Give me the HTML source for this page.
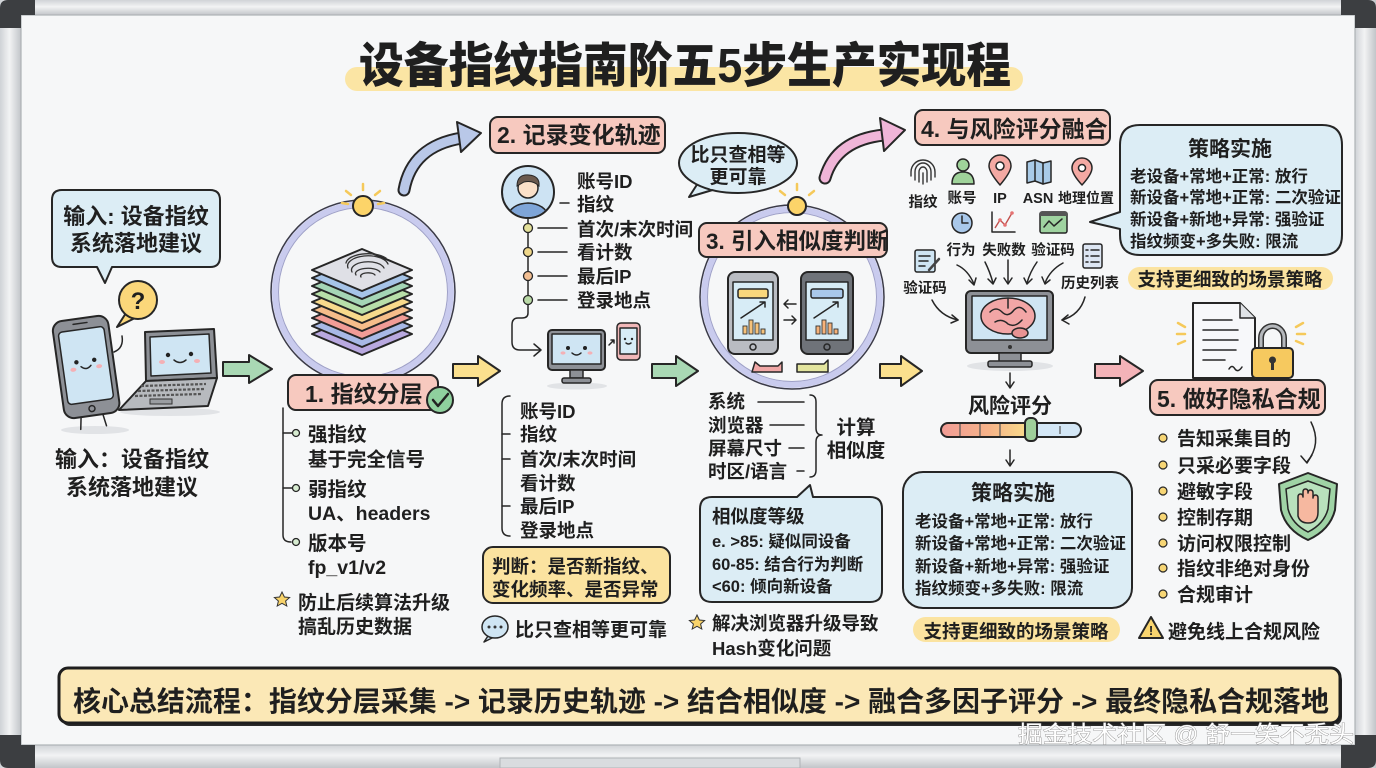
<!DOCTYPE html>
<html><head><meta charset="utf-8">
<style>
html,body{margin:0;padding:0;background:#f6f7f8;}
svg{display:block;}
text{font-family:"Liberation Sans","Noto Sans CJK SC",sans-serif;fill:#1f1f1f;}
.b{font-weight:700;}
.k{stroke:#262626;stroke-width:2;stroke-linejoin:round;stroke-linecap:round;}
.t{stroke:#262626;stroke-width:1.5;stroke-linejoin:round;stroke-linecap:round;}
.t:not([fill]){fill:none;}
</style></head><body>
<svg width="1376" height="768" viewBox="0 0 1376 768" xmlns="http://www.w3.org/2000/svg">
<defs>
<linearGradient id="vbar" x1="0" x2="1" y1="0" y2="0"><stop offset="0" stop-color="#cfd2d6"/><stop offset=".45" stop-color="#f2f3f4"/><stop offset="1" stop-color="#c2c5c9"/></linearGradient>
<linearGradient id="hbar" x1="0" x2="0" y1="0" y2="1"><stop offset="0" stop-color="#d0d3d7"/><stop offset=".45" stop-color="#f2f3f4"/><stop offset="1" stop-color="#c2c5c9"/></linearGradient>
<linearGradient id="slid" x1="0" x2="1" y1="0" y2="0"><stop offset="0" stop-color="#f19c96"/><stop offset=".35" stop-color="#f6b489"/><stop offset=".6" stop-color="#f8d98b"/><stop offset=".63" stop-color="#d4e7f6"/><stop offset="1" stop-color="#d4e7f6"/></linearGradient>
<clipPath id="av"><circle cx="528" cy="192" r="25"/></clipPath>
</defs>

<!-- whiteboard frame -->
<rect x="0" y="0" width="1376" height="768" fill="#c9ccd0"/>
<rect x="0" y="0" width="1376" height="15" fill="url(#hbar)"/>
<rect x="0" y="745" width="1376" height="23" fill="url(#hbar)"/>
<rect x="0" y="0" width="21" height="768" fill="url(#vbar)"/>
<rect x="1355" y="0" width="21" height="768" fill="url(#vbar)"/>
<rect x="21" y="15" width="1334" height="730" fill="#f6f7f8" stroke="#aeb2b6" stroke-width="1.2"/>
<rect x="500" y="758" width="300" height="10" fill="#d9dcdf" stroke="#b0b3b7" stroke-width="1"/>
<path d="M0,28 V8 Q0,0 8,0 H35 V15 H21 V28 Z" fill="#3c3e41"/>
<path d="M1376,28 V8 Q1376,0 1368,0 H1341 V15 H1355 V28 Z" fill="#3c3e41"/>
<path d="M0,735 H21 V745 H35 V768 H8 Q0,768 0,760 Z" fill="#3c3e41"/>
<path d="M1376,735 H1355 V745 H1341 V768 H1368 Q1376,768 1376,760 Z" fill="#3c3e41"/>

<!-- title -->
<rect x="345" y="67" width="678" height="24" rx="12" fill="#fbe5a4"/>
<text x="359" y="82" class="b" font-size="48" textLength="652" lengthAdjust="spacingAndGlyphs" style="font-weight:900">设备指纹指南阶五5步生产实现程</text>

<!-- ============ INPUT ============ -->
<path d="M62,190 H210 Q220,190 220,200 V257 Q220,267 210,267 H112 L105,283 L97,267 H62 Q52,267 52,257 V200 Q52,190 62,190 Z" fill="#dcedf5" class="k"/>
<text x="136" y="224" class="b" font-size="22" text-anchor="middle">输入: 设备指纹</text>
<text x="136" y="251" class="b" font-size="22" text-anchor="middle">系统落地建议</text>

<polygon points="126,313 117,327 135,318" fill="#fbd77a" class="k"/>
<circle cx="138" cy="300" r="19" fill="#fbd77a" class="k"/>
<text x="138" y="309" class="b" font-size="24" text-anchor="middle">?</text>

<ellipse cx="95" cy="430" rx="34" ry="4" fill="#e1e3e6"/>
<ellipse cx="170" cy="412" rx="50" ry="4" fill="#e1e3e6"/>
<g transform="rotate(-8 86 366)">
<rect x="58" y="318" width="56" height="98" rx="10" fill="#8d9096" class="k" stroke-width="2.5"/>
<rect x="63" y="329" width="46" height="73" rx="4" fill="#cfe5f3" class="t" stroke-width="1.2"/>
<line x1="79" y1="323" x2="93" y2="323" class="t"/>
<circle cx="86" cy="409" r="3" fill="none" class="t"/>
<circle cx="77" cy="361" r="2.2" fill="#222"/><circle cx="95" cy="361" r="2.2" fill="#222"/>
<path d="M81,366 Q86,371 91,366" class="t"/>
<ellipse cx="73" cy="368" rx="3" ry="2" fill="#f4b0b5"/><ellipse cx="99" cy="368" rx="3" ry="2" fill="#f4b0b5"/>
<line x1="74" y1="416" x2="72" y2="428" class="t"/><line x1="96" y1="416" x2="98" y2="428" class="t"/>
</g>
<path d="M114,352 Q124,348 122,336" class="t"/>
<polygon points="145,332 214,329 217,378 146,381" fill="#8d9096" class="k"/>
<polygon points="150,337 209,334 211,373 151,376" fill="#cfe5f3" class="t" stroke-width="1.2"/>
<circle cx="168" cy="355" r="2.2" fill="#222"/><circle cx="191" cy="354" r="2.2" fill="#222"/>
<path d="M174,360 Q180,365 186,360" class="t"/>
<ellipse cx="162" cy="362" rx="3" ry="2" fill="#f4b0b5"/><ellipse cx="197" cy="361" rx="3" ry="2" fill="#f4b0b5"/>
<polygon points="146,381 217,378 208,406 119,410" fill="#b7babe" class="k"/>
<path d="M141,386 L206,384 M138,391 L204,389 M135,396 L201,394" stroke="#555" stroke-width="2.2" stroke-dasharray="3 1.5" fill="none"/>
<rect x="150" y="399" width="22" height="5" fill="#9a9da1" stroke="#333" stroke-width="1"/>

<text x="132" y="467" class="b" font-size="22" text-anchor="middle">输入：设备指纹</text>
<text x="132" y="495" class="b" font-size="22" text-anchor="middle">系统落地建议</text>

<!-- arrows between stages -->
<path d="M223,362 H249 V355 L272,369 L249,383 V376 H223 Z" fill="#a9d8b4" class="k"/>
<path d="M453,364 H478 V356 L500,371 L478,386 V378 H453 Z" fill="#fbe08e" class="k"/>
<path d="M652,364 H676 V356 L698,371 L676,386 V378 H652 Z" fill="#a9d8b4" class="k"/>
<path d="M880,364 H901 V356 L922,371 L901,386 V378 H880 Z" fill="#fbe08e" class="k"/>
<path d="M1095,364 H1120 V356 L1143,371 L1120,386 V378 H1095 Z" fill="#f4b3b8" class="k"/>

<!-- curved arrows -->
<path d="M404,190 Q412,146 462,138" fill="none" stroke="#262626" stroke-width="13" stroke-linecap="round"/>
<path d="M404,190 Q412,146 462,138" fill="none" stroke="#b9c8e8" stroke-width="9" stroke-linecap="round"/>
<polygon points="457,122 481,133 461,152" fill="#b9c8e8" class="k"/>
<path d="M825,178 Q836,140 884,135" fill="none" stroke="#262626" stroke-width="13" stroke-linecap="round"/>
<path d="M825,178 Q836,140 884,135" fill="none" stroke="#f0b5d8" stroke-width="9" stroke-linecap="round"/>
<polygon points="880,118 905,130 884,151" fill="#f0b5d8" class="k"/>

<!-- ============ STEP 1 ============ -->
<circle cx="363" cy="292" r="92" fill="none" stroke="#3a3a48" stroke-width="1.5"/>
<circle cx="363" cy="292" r="88" fill="none" stroke="#c9cbee" stroke-width="6"/>
<circle cx="363" cy="292" r="84.5" fill="none" stroke="#9ea0c8" stroke-width="1"/>
<g stroke="#f5c95a" stroke-width="2.5" stroke-linecap="round"><line x1="363" y1="190" x2="363" y2="184"/><line x1="351" y1="195" x2="346" y2="191"/><line x1="375" y1="195" x2="380" y2="191"/><line x1="348" y1="204" x2="342" y2="203"/><line x1="378" y1="204" x2="384" y2="203"/></g>
<circle cx="363" cy="206" r="10" fill="#fcd469" class="k" stroke-width="1.5"/>

<g class="k" stroke-width="1.6">
<polygon points="312,334 362,313 412,334 362,355" fill="#b9a9e0"/>
<polygon points="312,326 362,305 412,326 362,347" fill="#a8b9e6"/>
<polygon points="312,318 362,297 412,318 362,339" fill="#f19c97"/>
<polygon points="312,310 362,289 412,310 362,331" fill="#f6bd8a"/>
<polygon points="312,302 362,281 412,302 362,323" fill="#f8da8c"/>
<polygon points="312,294 362,273 412,294 362,315" fill="#b8dfa9"/>
<polygon points="312,286 362,265 412,286 362,307" fill="#a5d6b6"/>
<polygon points="312,278 362,257 412,278 362,299" fill="#a6c4e8"/>
<polygon points="312,270 362,249 412,270 362,291" fill="#dfe0e6"/>
</g>
<g fill="none" stroke="#333" stroke-width="1.3" stroke-linecap="round">
<path d="M352,272 A16,8 0 0 1 384,268"/><path d="M348,268 A20,10 0 0 1 388,264"/><path d="M346,263 A22,10 0 0 1 386,258"/><path d="M356,275 A12,5 0 0 1 380,272"/><path d="M361,277 A7,3 0 0 1 375,275"/>
</g>

<rect x="288" y="375" width="150" height="35" rx="8" fill="#f7c9bf" class="k"/>
<text x="305" y="402" class="b" font-size="23">1. 指纹分层</text>
<circle cx="440" cy="400" r="13" fill="#8fd19e" class="k"/>
<path d="M433,400 L438,406 L448,394" fill="none" stroke="#222" stroke-width="2.5" stroke-linecap="round" stroke-linejoin="round"/>

<path d="M283,408 V535 Q283,542 291,542" class="t" stroke-width="1.8"/>
<line x1="283" y1="433" x2="292" y2="433" class="t" stroke-width="1.8"/>
<line x1="283" y1="488" x2="292" y2="488" class="t" stroke-width="1.8"/>
<g fill="#d7ecd1" stroke="#262626" stroke-width="1.3"><circle cx="296" cy="433" r="3.5"/><circle cx="296" cy="488" r="3.5"/><circle cx="296" cy="542" r="3.5"/></g>
<g class="b" font-size="19.5">
<text x="308" y="441">强指纹</text>
<text x="308" y="466">基于完全信号</text>
<text x="308" y="496">弱指纹</text>
<text x="308" y="520">UA、headers</text>
<text x="308" y="550">版本号</text>
<text x="308" y="574">fp_v1/v2</text>
</g>
<polygon points="282,592 284.4,597 289.6,597.5 285.6,601 286.8,606 282,603.3 277.2,606 278.4,601 274.4,597.5 279.6,597" fill="#f8d36a" stroke="#333" stroke-width="1"/>
<text x="298" y="609" class="b" font-size="19">防止后续算法升级</text>
<text x="298" y="633" class="b" font-size="19">搞乱历史数据</text>

<!-- ============ STEP 2 ============ -->
<rect x="490" y="117" width="175" height="36" rx="8" fill="#f7c9bf" class="k"/>
<text x="497" y="143" class="b" font-size="23">2. 记录变化轨迹</text>

<circle cx="528" cy="192" r="26" fill="#cde3f3" class="k"/>
<g clip-path="url(#av)">
<path d="M506,222 Q508,204 528,203 Q548,204 550,222 Z" fill="#7ea5d8" class="t" stroke-width="1.5"/>
<circle cx="528" cy="188" r="10" fill="#fbe0c8" class="t" stroke-width="1.5"/>
<path d="M517,186 Q517,174 529,175 Q540,176 539,186 Q533,180 524,182 Z" fill="#6b5a4e" stroke="#262626" stroke-width="1"/>
</g>
<line x1="560" y1="203" x2="569" y2="203" class="t"/>
<path d="M528,218 V313 Q528,318 522,318 H518 Q512,318 512,325 V342 Q512,350 520,350 H540" class="t" stroke-width="1.6"/>
<path d="M534,344 L541,350 L534,356" class="t" stroke-width="1.6"/>
<g class="t"><line x1="538" y1="228" x2="567" y2="228"/><line x1="538" y1="252" x2="567" y2="252"/><line x1="538" y1="276" x2="567" y2="276"/><line x1="538" y1="300" x2="567" y2="300"/></g>
<g stroke="#262626" stroke-width="1.3"><circle cx="528" cy="228" r="4.5" fill="#e3e09a"/><circle cx="528" cy="252" r="4.5" fill="#efd78a"/><circle cx="528" cy="276" r="4.5" fill="#f2be92"/><circle cx="528" cy="300" r="4.5" fill="#b9d9a6"/></g>
<g class="b" font-size="18.5">
<text x="577" y="188">账号ID</text>
<text x="577" y="211">指纹</text>
<text x="577" y="236">首次/末次时间</text>
<text x="577" y="259">看计数</text>
<text x="577" y="283">最后IP</text>
<text x="577" y="307">登录地点</text>
</g>

<ellipse cx="577" cy="386" rx="30" ry="3.5" fill="#e1e3e6"/>
<rect x="548" y="330" width="57" height="40" rx="4" fill="#8d9096" class="k"/>
<rect x="552" y="334" width="49" height="30" fill="#cfe5f3" class="t" stroke-width="1"/>
<circle cx="568" cy="348" r="2" fill="#222"/><circle cx="585" cy="348" r="2" fill="#222"/>
<path d="M572,353 Q576.5,357 581,353" class="t"/>
<ellipse cx="563" cy="353" rx="2.5" ry="1.6" fill="#f4b0b5"/><ellipse cx="590" cy="353" rx="2.5" ry="1.6" fill="#f4b0b5"/>
<rect x="570" y="370" width="13" height="8" fill="#8d9096" class="t" stroke-width="1.4"/>
<rect x="562" y="378" width="29" height="5" rx="2" fill="#8d9096" class="t" stroke-width="1.4"/>
<path d="M609,345 L614,340 M611,340 H614 V343" class="t" stroke-width="1.2"/>
<rect x="617" y="323" width="23" height="37" rx="4" fill="#f0b7b8" class="t" stroke-width="1.6"/>
<rect x="620" y="328" width="17" height="26" fill="#d7ecf6" class="t" stroke-width="1"/>
<circle cx="625" cy="339" r="1.2" fill="#222"/><circle cx="632" cy="339" r="1.2" fill="#222"/>
<path d="M626,343 Q628.5,345 631,343" class="t" stroke-width="1"/>

<path d="M510,396 Q502,396 502,404 V528 Q502,536 510,536" class="t" stroke-width="1.8"/>
<g class="t" stroke-width="1.8"><line x1="502" y1="434" x2="510" y2="434"/><line x1="502" y1="459" x2="510" y2="459"/><line x1="502" y1="506" x2="510" y2="506"/></g>
<g class="b" font-size="18.5">
<text x="520" y="418">账号ID</text>
<text x="520" y="441">指纹</text>
<text x="520" y="466">首次/末次时间</text>
<text x="520" y="490">看计数</text>
<text x="520" y="513">最后IP</text>
<text x="520" y="537">登录地点</text>
</g>
<rect x="483" y="547" width="187" height="56" rx="10" fill="#fbe3a0" class="k"/>
<text x="492" y="573" class="b" font-size="18.5">判断：是否新指纹、</text>
<text x="492" y="596" class="b" font-size="18.5">变化频率、是否异常</text>

<path d="M488,636 L484,642 L494,637" fill="#cfe5f3" class="t" stroke-width="1.4"/>
<ellipse cx="495" cy="627" rx="13" ry="11" fill="#cfe5f3" class="t" stroke-width="1.4"/>
<g fill="#333"><circle cx="489" cy="627" r="1.5"/><circle cx="495" cy="627" r="1.5"/><circle cx="501" cy="627" r="1.5"/></g>
<text x="515" y="636" class="b" font-size="19">比只查相等更可靠</text>

<!-- bubble -->
<polygon points="698,183 689,197 716,189" fill="#dcedf5" class="k"/>
<ellipse cx="738" cy="163" rx="59" ry="30" fill="#dcedf5" class="k"/>
<path d="M700,181 L712,188" stroke="#dcedf5" stroke-width="3"/>
<text x="738" y="161" class="b" font-size="19" text-anchor="middle">比只查相等</text>
<text x="738" y="183" class="b" font-size="19" text-anchor="middle">更可靠</text>

<!-- ============ STEP 3 ============ -->
<circle cx="792" cy="297" r="92" fill="none" stroke="#3a3a48" stroke-width="1.5"/>
<circle cx="792" cy="297" r="88" fill="none" stroke="#c9cbee" stroke-width="6"/>
<circle cx="792" cy="297" r="84.5" fill="none" stroke="#9ea0c8" stroke-width="1"/>
<g stroke="#f5c95a" stroke-width="2.5" stroke-linecap="round"><line x1="797" y1="190" x2="797" y2="184"/><line x1="785" y1="195" x2="780" y2="191"/><line x1="809" y1="195" x2="814" y2="191"/></g>
<circle cx="797" cy="206" r="9" fill="#fcd469" class="k" stroke-width="1.5"/>

<rect x="728" y="272" width="50" height="82" rx="7" fill="#b9bcc2" class="k"/>
<rect x="733" y="282" width="40" height="58" fill="#d7ecf6" class="t" stroke-width="1.2"/>
<rect x="738" y="289" width="30" height="9" rx="2" fill="#f8d77c" class="t" stroke-width="1"/>
<path d="M741,318 L765,302 M760,302 H765 V307" class="t" stroke-width="1.4"/>
<g fill="#f6c27a" stroke="#333" stroke-width="0.9"><rect x="743" y="326" width="4" height="8"/><rect x="749" y="320" width="4" height="14"/><rect x="755" y="323" width="4" height="11"/><rect x="761" y="329" width="4" height="5"/></g>
<circle cx="753" cy="347" r="3" fill="none" class="t" stroke-width="1.2"/>
<rect x="801" y="272" width="52" height="82" rx="7" fill="#6f7379" class="k"/>
<rect x="806" y="282" width="42" height="58" fill="#d7ecf6" class="t" stroke-width="1.2"/>
<rect x="811" y="289" width="32" height="9" rx="2" fill="#a9c8ea" class="t" stroke-width="1"/>
<path d="M814,318 L838,302 M833,302 H838 V307" class="t" stroke-width="1.4"/>
<g fill="#f6b27a" stroke="#333" stroke-width="0.9"><rect x="816" y="326" width="4" height="8"/><rect x="822" y="320" width="4" height="14"/><rect x="828" y="323" width="4" height="11"/><rect x="834" y="329" width="4" height="5"/></g>
<circle cx="827" cy="347" r="3" fill="none" class="t" stroke-width="1.2"/>
<path d="M796,304 H784 M788,300 L784,304 L788,308 M784,320 H796 M792,316 L796,320 L792,324" class="t" stroke-width="1.4"/>
<path d="M752,372 L755,362 L760,366 H778 L782,362 V372 Z" fill="#f0a7a6" class="t" stroke-width="1.2"/>
<path d="M797,372 V364 H824 L828,360 V372 Z" fill="#e3e59e" class="t" stroke-width="1.2"/>

<rect x="699" y="223" width="188" height="34" rx="8" fill="#f7c9bf" class="k"/>
<text x="706" y="249" class="b" font-size="22.5">3. 引入相似度判断</text>

<g class="b" font-size="18.5">
<text x="708" y="408">系统</text>
<text x="708" y="432">浏览器</text>
<text x="708" y="455">屏幕尺寸</text>
<text x="708" y="478">时区/语言</text>
</g>
<g class="t" stroke-width="1.4"><line x1="758" y1="402" x2="804" y2="402"/><line x1="770" y1="425" x2="804" y2="425"/><line x1="789" y1="448" x2="804" y2="448"/><line x1="797" y1="471" x2="804" y2="471"/></g>
<path d="M810,395 Q816,395 816,402 V428 Q816,435 822,435 Q816,435 816,442 V470 Q816,477 810,477" class="t" stroke-width="1.8"/>
<text x="856" y="434" class="b" font-size="19.5" text-anchor="middle">计算</text>
<text x="856" y="457" class="b" font-size="19.5" text-anchor="middle">相似度</text>

<path d="M712,497 H797 L810,485 L813,497 H870 Q882,497 882,509 V590 Q882,602 870,602 H712 Q700,602 700,590 V509 Q700,497 712,497 Z" fill="#dcedf5" class="k"/>
<text x="712" y="523" class="b" font-size="18.5">相似度等级</text>
<g class="b" font-size="16.5">
<text x="712" y="547">e. &gt;85: 疑似同设备</text>
<text x="712" y="570">60-85: 结合行为判断</text>
<text x="712" y="592">&lt;60: 倾向新设备</text>
</g>
<polygon points="697,615 699.4,620 704.6,620.5 700.6,624 701.8,629 697,626.3 692.2,629 693.4,624 689.4,620.5 694.6,620" fill="#f8d36a" stroke="#333" stroke-width="1"/>
<text x="712" y="630" class="b" font-size="18.5">解决浏览器升级导致</text>
<text x="712" y="655" class="b" font-size="18.5">Hash变化问题</text>

<!-- ============ STEP 4 ============ -->
<rect x="915" y="110" width="195" height="35" rx="8" fill="#f7c9bf" class="k"/>
<text x="921" y="137" class="b" font-size="23">4. 与风险评分融合</text>

<!-- icons row 1 -->
<g fill="none" stroke="#333" stroke-width="1.4" stroke-linecap="round">
<path d="M915,180 V172 A8,9 0 0 1 931,172 V180"/><path d="M919,182 V172 A4,5 0 0 1 927,172 V182"/><path d="M923,184 V173"/><path d="M911,176 V172 A12,12 0 0 1 935,172 V177"/>
</g>
<circle cx="963" cy="165" r="6" fill="#9fd39a" class="t" stroke-width="1.5"/>
<path d="M952,184 Q952,172 963,172 Q974,172 974,184 Z" fill="#9fd39a" class="t" stroke-width="1.5"/>
<path d="M1000,185 Q989,172 989,166 A11,11 0 0 1 1011,166 Q1011,172 1000,185 Z" fill="#f4a9a3" class="t" stroke-width="1.5"/>
<circle cx="1000" cy="166" r="4" fill="#fff" class="t" stroke-width="1.2"/>
<path d="M1027,162 L1035,160 L1043,163 L1051,161 V182 L1043,184 L1035,181 L1027,183 Z" fill="#a9cbe8" class="t" stroke-width="1.4"/>
<path d="M1035,160 V181 M1043,163 V184" class="t" stroke-width="1.2"/>
<path d="M1082,185 Q1072,174 1072,168 A10,10 0 0 1 1092,168 Q1092,174 1082,185 Z" fill="#f4a9a3" class="t" stroke-width="1.5"/>
<circle cx="1082" cy="168" r="3.5" fill="#fff" class="t" stroke-width="1.2"/>
<g class="b" font-size="14.5" text-anchor="middle">
<text x="923" y="207">指纹</text>
<text x="962" y="203">账号</text>
<text x="1000" y="203">IP</text>
<text x="1038" y="203">ASN</text>
<text x="1086" y="203" font-size="14">地理位置</text>
</g>
<!-- icons row 2 -->
<circle cx="962" cy="223" r="10" fill="#a9c8ea" class="t" stroke-width="1.5"/>
<path d="M962,216 V223 H968" class="t" stroke-width="1.5"/>
<path d="M992,212 V232 H1015" class="t" stroke-width="1.4"/>
<path d="M995,228 L1000,220 L1005,225 L1012,213" fill="none" stroke="#c0504d" stroke-width="1.4"/>
<g fill="#e57373"><circle cx="1000" cy="220" r="1.8"/><circle cx="1005" cy="225" r="1.8"/><circle cx="1012" cy="213" r="1.8"/></g>
<rect x="1040" y="212" width="27" height="21" rx="2" fill="#9fd3a0" class="t" stroke-width="1.4"/>
<rect x="1040" y="212" width="27" height="4" fill="#555"/>
<path d="M1044,227 L1049,221 L1054,226 L1062,219" class="t" stroke-width="1.2"/>
<rect x="915" y="250" width="20" height="22" rx="2" fill="#cfe5f3" class="t" stroke-width="1.4"/>
<path d="M919,256 H930 M919,261 H928 M919,266 H925" class="t" stroke-width="1.1"/>
<path d="M929,270 L939,259" stroke="#444" stroke-width="2.5" stroke-linecap="round" fill="none"/>
<rect x="1083" y="244" width="19" height="24" rx="2" fill="#dde6f3" class="t" stroke-width="1.4"/>
<path d="M1086,250 H1088 M1091,250 H1099 M1086,256 H1088 M1091,256 H1099 M1086,262 H1088 M1091,262 H1099" class="t" stroke-width="1.1"/>
<g class="b" font-size="14.5" text-anchor="middle">
<text x="961" y="255">行为</text>
<text x="1004" y="255">失败数</text>
<text x="1053" y="255">验证码</text>
<text x="925" y="293">验证码</text>
<text x="1090" y="288">历史列表</text>
</g>
<!-- converging arrows -->
<g class="t" stroke-width="1.5">
<path d="M957,265 Q968,270 974,284"/><path d="M969,280 L974,285 L976,278"/>
<path d="M985,262 Q990,272 993,283"/><path d="M988,279 L993,284 L996,278"/>
<path d="M1008,260 V283"/><path d="M1004,278 L1008,284 L1012,278"/>
<path d="M1037,262 Q1030,272 1027,283"/><path d="M1024,278 L1027,284 L1032,279"/>
<path d="M1063,263 Q1050,270 1045,283"/><path d="M1042,277 L1045,284 L1050,280"/>
<path d="M932,300 Q940,316 958,320"/><path d="M952,315 L958,320 L951,323"/>
<path d="M1085,297 Q1080,315 1062,320"/><path d="M1068,315 L1062,320 L1069,324"/>
</g>
<ellipse cx="1010" cy="366" rx="43" ry="5" fill="#e1e3e6"/>
<rect x="966" y="291" width="87" height="62" rx="5" fill="#8d9096" class="k"/>
<rect x="972" y="296" width="75" height="44" fill="#cfe5f3" class="t" stroke-width="1.2"/>
<circle cx="1010" cy="347" r="2" fill="#333"/>
<rect x="999" y="353" width="22" height="9" fill="#8d9096" class="t" stroke-width="1.4"/>
<rect x="988" y="361" width="44" height="6" rx="2" fill="#8d9096" class="t" stroke-width="1.4"/>
<ellipse cx="1008" cy="316" rx="27" ry="18" fill="#f2a6a6" class="t" stroke-width="1.5"/>
<ellipse cx="1020" cy="333" rx="8" ry="5" fill="#e89393" class="t" stroke-width="1.2"/>
<path d="M990,312 Q996,306 1002,312 Q1008,318 1014,310 Q1020,304 1026,312 M995,322 Q1002,318 1008,324 Q1015,328 1022,320 M1008,299 V308" class="t" stroke-width="1.1"/>

<path d="M1010,373 V387 M1006,382 L1010,388 L1014,382" class="t" stroke-width="1.5"/>
<text x="1010" y="413" class="b" font-size="21" text-anchor="middle">风险评分</text>
<rect x="941" y="423" width="140" height="14" rx="7" fill="url(#slid)" class="k" stroke-width="1.6"/>
<path d="M960,424 V436 M980,424 V436 M1000,424 V436 M1060,426 V434" stroke="#555" stroke-width="1.2" fill="none"/>
<rect x="1025" y="418" width="12" height="23" rx="5" fill="#9fcf9a" class="k" stroke-width="1.6"/>
<path d="M1010,450 V465 M1006,460 L1010,466 L1014,460" class="t" stroke-width="1.5"/>

<rect x="903" y="472" width="229" height="136" rx="20" fill="#dcedf5" class="k"/>
<text x="1013" y="500" class="b" font-size="21" text-anchor="middle">策略实施</text>
<g class="b" font-size="16.5">
<text x="915" y="527">老设备+常地+正常: 放行</text>
<text x="915" y="549">新设备+常地+正常: 二次验证</text>
<text x="915" y="572">新设备+新地+异常: 强验证</text>
<text x="915" y="594">指纹频变+多失败: 限流</text>
</g>
<rect x="913" y="617" width="207" height="25" rx="12.5" fill="#fbe3a0"/>
<text x="1016" y="638" class="b" font-size="18.5" text-anchor="middle">支持更细致的场景策略</text>

<!-- top-right callout -->
<path d="M1140,125 H1322 Q1342,125 1342,145 V235 Q1342,255 1322,255 H1140 Q1120,255 1120,235 V229 L1090,222 L1120,212 V145 Q1120,125 1140,125 Z" fill="#dcedf5" class="k"/>
<text x="1230" y="156" class="b" font-size="21" text-anchor="middle">策略实施</text>
<g class="b" font-size="16.5">
<text x="1130" y="182">老设备+常地+正常: 放行</text>
<text x="1130" y="203">新设备+常地+正常: 二次验证</text>
<text x="1130" y="225">新设备+新地+异常: 强验证</text>
<text x="1130" y="247">指纹频变+多失败: 限流</text>
</g>
<rect x="1128" y="267" width="205" height="23" rx="11.5" fill="#fbe3a0"/>
<text x="1230" y="286" class="b" font-size="18.5" text-anchor="middle">支持更细致的场景策略</text>

<!-- ============ STEP 5 ============ -->
<g stroke="#f5c95a" stroke-width="2.5" stroke-linecap="round"><line x1="1178" y1="323" x2="1185" y2="327"/><line x1="1177" y1="334" x2="1185" y2="334"/><line x1="1178" y1="344" x2="1185" y2="341"/><line x1="1303" y1="323" x2="1296" y2="327"/><line x1="1305" y1="334" x2="1297" y2="334"/><line x1="1303" y1="344" x2="1296" y2="341"/></g>
<path d="M1193,303 H1240 L1255,318 V378 H1193 Z" fill="#f7f8fa" class="k"/>
<path d="M1240,303 V318 H1255" fill="#dfe2e6" class="t" stroke-width="1.5"/>
<path d="M1203,320 H1232 M1203,330 H1238 M1203,340 H1238 M1203,350 H1236 M1203,360 H1225" class="t" stroke-width="1.4"/>
<path d="M1229,369 Q1232,364 1235,369 Q1238,373 1242,367" class="t" stroke-width="1.1"/>
<path d="M1261,350 V338 A11.5,12 0 0 1 1284,338 V350" fill="none" stroke="#333" stroke-width="6"/>
<path d="M1261,350 V338 A11.5,12 0 0 1 1284,338 V350" fill="none" stroke="#b5b8bc" stroke-width="3"/>
<rect x="1252" y="348" width="41" height="30" rx="4" fill="#f6c95f" class="k"/>
<circle cx="1272.5" cy="360" r="3.5" fill="#333"/><path d="M1272.5,362 V370" stroke="#333" stroke-width="3" fill="none"/>

<rect x="1150" y="380" width="175" height="35" rx="8" fill="#f7c9bf" class="k"/>
<text x="1157" y="407" class="b" font-size="23">5. 做好隐私合规</text>

<g fill="#f7d675" stroke="#262626" stroke-width="1.2">
<circle cx="1163" cy="438" r="4"/><circle cx="1163" cy="465" r="4"/><circle cx="1163" cy="491" r="4"/><circle cx="1163" cy="517" r="4"/><circle cx="1163" cy="543" r="4"/><circle cx="1163" cy="568" r="4"/><circle cx="1163" cy="594" r="4"/>
</g>
<g class="b" font-size="19">
<text x="1177" y="445">告知采集目的</text>
<text x="1177" y="472">只采必要字段</text>
<text x="1177" y="498">避敏字段</text>
<text x="1177" y="524">控制存期</text>
<text x="1177" y="550">访问权限控制</text>
<text x="1177" y="575">指纹非绝对身份</text>
<text x="1177" y="601">合规审计</text>
</g>
<path d="M1311,422 Q1322,444 1307,462" class="t" stroke-width="1.6"/>
<path d="M1301,456 L1307,463 L1312,455" class="t" stroke-width="1.6"/>
<path d="M1308,473 L1337,484 L1335,510 Q1330,530 1308,540 Q1286,530 1281,510 L1279,484 Z" fill="#9fd3a5" class="k"/>
<path d="M1308,481 L1330,489 L1328,509 Q1324,524 1308,532 Q1292,524 1288,509 L1286,489 Z" fill="#b9e1bd" class="t" stroke-width="1.2"/>
<path d="M1298,516 V497 Q1298,494 1300.5,494 Q1303,494 1303,497 V492 Q1303,489 1305.5,489 Q1308,489 1308,492 V493 Q1308,490 1310.5,490 Q1313,490 1313,493 V498 Q1313,495 1315.5,495 Q1318,495 1318,498 V512 Q1318,523 1308,523 Q1300,523 1298,516 Z" fill="#f6b8a0" class="t" stroke-width="1.3"/>

<polygon points="1151,617 1163,638 1139,638" fill="#f9d56f" class="k" stroke-width="1.6"/>
<text x="1151" y="635" class="b" font-size="13" text-anchor="middle">!</text>
<text x="1168" y="638" class="b" font-size="19">避免线上合规风险</text>

<!-- ============ SUMMARY ============ -->
<rect x="61" y="671" width="1281" height="55" rx="9" fill="#2a2a2a"/>
<rect x="59" y="668" width="1281" height="55" rx="9" fill="#fbe8b6" stroke="#1e1e1e" stroke-width="3"/>
<text x="73" y="711" class="b" font-size="28" textLength="1256" lengthAdjust="spacingAndGlyphs">核心总结流程：指纹分层采集 -&gt; 记录历史轨迹 -&gt; 结合相似度 -&gt; 融合多因子评分 -&gt; 最终隐私合规落地</text>

<text x="1018" y="742" font-size="23" textLength="336" lengthAdjust="spacingAndGlyphs" style="fill:#ffffff;stroke:#8a8a8a;stroke-width:0.8;paint-order:stroke">掘金技术社区 @ 舒一笑不秃头</text>
</svg>
</body></html>
